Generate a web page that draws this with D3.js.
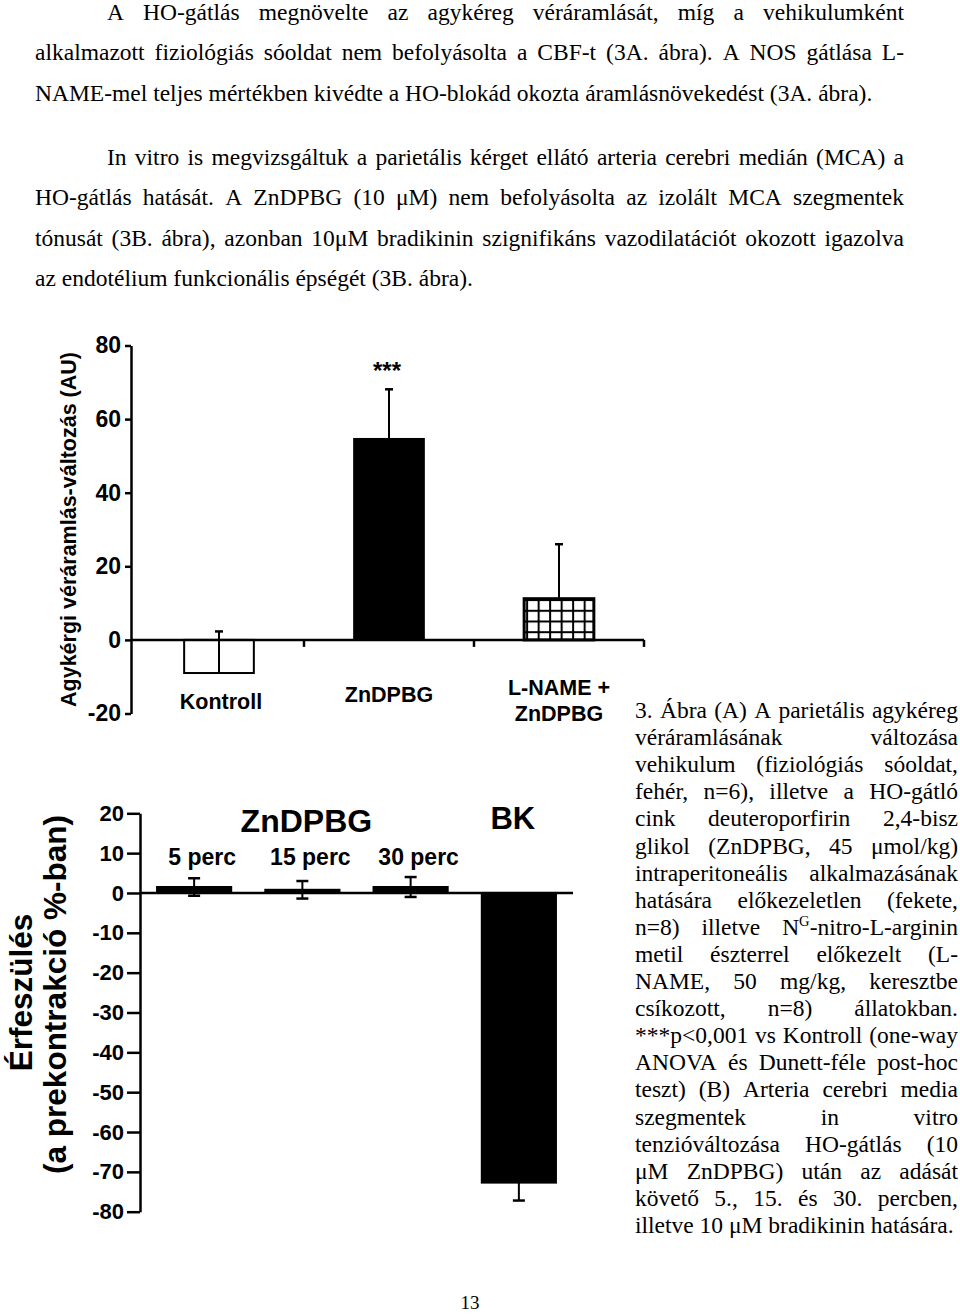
<!DOCTYPE html>
<html><head><meta charset="utf-8">
<script src="https://cdn.jsdelivr.net/npm/d3@7"></script>
<style>body{margin:0;background:#fff}</style>
</head><body>
<svg id="page" width="960" height="1315" xmlns="http://www.w3.org/2000/svg"></svg>
<script>
// ---------- DATA ----------
const categoriesA = ["Kontroll", "ZnDPBG", "L-NAME + ZnDPBG"];
const valuesA = [-9, 54.6, 11.2];
const errorsA = [11.3, 13.5, 14.8];
const ticksA = [-20, 0, 20, 40, 60, 80];
const yLabelA = "Agykérgi véráramlás-változás (AU)";
const signifA = ["", "***", ""];

const categoriesB = ["5 perc", "15 perc", "30 perc", "BK"];
const valuesB = [1.5, 0.8, 1.5, -72.7];
const errorsB = [2.2, 2.2, 2.5, 4.5];
const ticksB = [20, 10, 0, -10, -20, -30, -40, -50, -60, -70, -80];
const yLabelB = ["Érfeszülés", "(a prekontrakció %-ban)"];
const groupLabelB = "ZnDPBG";

const paragraph1 = [
  "A HO-gátlás megnövelte az agykéreg véráramlását, míg a vehikulumként",
  "alkalmazott fiziológiás sóoldat nem befolyásolta a CBF-t (3A. ábra). A NOS gátlása L-",
  "NAME-mel teljes mértékben kivédte a HO-blokád okozta áramlásnövekedést (3A. ábra)."
];
const paragraph2 = [
  "In vitro is megvizsgáltuk a parietális kérget ellátó arteria cerebri medián (MCA) a",
  "HO-gátlás hatását. A ZnDPBG (10 μM) nem befolyásolta az izolált MCA szegmentek",
  "tónusát (3B. ábra), azonban 10μM bradikinin szignifikáns vazodilatációt okozott igazolva",
  "az endotélium funkcionális épségét (3B. ábra)."
];
const captionLines = [
  "3. Ábra (A) A parietális agykéreg",
  "véráramlásának változása",
  "vehikulum (fiziológiás sóoldat,",
  "fehér, n=6), illetve a HO-gátló",
  "cink deuteroporfirin 2,4-bisz",
  "glikol (ZnDPBG, 45 μmol/kg)",
  "intraperitoneális alkalmazásának",
  "hatására előkezeletlen (fekete,",
  "n=8) illetve N^G-nitro-L-arginin",
  "metil észterrel előkezelt (L-",
  "NAME, 50 mg/kg, keresztbe",
  "csíkozott, n=8) állatokban.",
  "***p<0,001 vs Kontroll (one-way",
  "ANOVA és Dunett-féle post-hoc",
  "teszt) (B) Arteria cerebri media",
  "szegmentek in vitro",
  "tenzióváltozása HO-gátlás (10",
  "μM ZnDPBG) után az adását",
  "követő 5., 15. és 30. percben,",
  "illetve 10 μM bradikinin hatására."
];
const pageNumber = "13";

// ---------- STYLE ----------
const SERIF = "'Liberation Serif','Times New Roman',serif";
const SANS = "'Liberation Sans',Arial,Helvetica,sans-serif";
const svg = d3.select("#page");
svg.append("rect").attr("width", 960).attr("height", 1315).attr("fill", "#fff");
const hyphenFmt = d => String(d); // plain hyphen-minus, as in the reference

// ---------- TEXT HELPERS ----------
function parseWord(w) {
  const m = w.match(/^(.*)\^(.)(.*)$/);
  if (m) return [{t: m[1]}, {t: m[2], sup: true}, {t: m[3]}];
  return [{t: w}];
}
function setLine(g, line, x0, x1, y, size, justify) {
  const words = line.split(" ").map(parseWord);
  const nodes = words.map(segs => {
    const t = g.append("text").attr("y", y)
      .attr("font-family", SERIF).attr("font-size", size).attr("fill", "#000");
    let raised = false;
    segs.forEach(s => {
      if (!s.t) return;
      const ts = t.append("tspan").text(s.t);
      if (s.sup) { ts.attr("font-size", size * 0.62).attr("dy", -size * 0.36); raised = true; }
      else if (raised) { ts.attr("dy", size * 0.36); raised = false; }
    });
    return t;
  });
  const widths = nodes.map(n => n.node().getComputedTextLength());
  const total = d3.sum(widths);
  const gap = (justify && words.length > 1) ? (x1 - x0 - total) / (words.length - 1) : size * 0.25;
  let x = x0;
  nodes.forEach((n, i) => { n.attr("x", x); x += widths[i] + gap; });
}

// ---------- BODY TEXT ----------
const body = svg.append("g");
const TXT = 23.5, LEFT = 35, RIGHT = 904, INDENT = 72;
const p1Base = [19.5, 60, 100.5];
const p2Base = [164.5, 205, 245.5, 286];
paragraph1.forEach((l, i) => setLine(body, l, LEFT + (i === 0 ? INDENT : 0), RIGHT, p1Base[i], TXT, i < paragraph1.length - 1));
paragraph2.forEach((l, i) => setLine(body, l, LEFT + (i === 0 ? INDENT : 0), RIGHT, p2Base[i], TXT, i < paragraph2.length - 1));

const cap = svg.append("g");
captionLines.forEach((l, i) => setLine(cap, l, 635, 958, 718 + i * 27.1, TXT, i < captionLines.length - 1));

svg.append("text").attr("x", 470).attr("y", 1309).attr("text-anchor", "middle")
  .attr("font-family", SERIF).attr("font-size", 19).text(pageNumber);

// ---------- CHART A ----------
const gA = svg.append("g");
const yA = d3.scaleLinear().domain([-20, 80]).range([713.5, 345.5]);
const xA = d3.scaleBand().domain(categoriesA).range([134, 644]).padding(0);
const barWA = xA.bandwidth() * 0.41;

const defs = svg.append("defs");
const pat = defs.append("pattern").attr("id", "grid").attr("patternUnits", "userSpaceOnUse")
  .attr("width", 11.5).attr("height", 10.7)
  .attr("x", xA(categoriesA[2]) + (xA.bandwidth() - barWA) / 2 + 2).attr("y", yA(0) + 2);
pat.append("rect").attr("width", 11.5).attr("height", 10.7).attr("fill", "#fff");
pat.append("rect").attr("x", 0).attr("y", 0).attr("width", 2).attr("height", 10.7).attr("fill", "#000");
pat.append("rect").attr("x", 0).attr("y", 0).attr("width", 11.5).attr("height", 2).attr("fill", "#000");

const fillsA = ["#fff", "#000", "url(#grid)"];
const strokeWA = [2, 2, 3];

categoriesA.forEach((c, i) => {
  const v = valuesA[i];
  const x = xA(c) + (xA.bandwidth() - barWA) / 2;
  gA.append("rect").attr("x", x).attr("width", barWA)
    .attr("y", Math.min(yA(v), yA(0))).attr("height", Math.abs(yA(v) - yA(0)))
    .attr("fill", fillsA[i]).attr("stroke", "#000").attr("stroke-width", strokeWA[i]);
});
categoriesA.forEach((c, i) => {
  const cx = xA(c) + xA.bandwidth() / 2;
  const v = valuesA[i], e = errorsA[i];
  gA.append("line").attr("x1", cx).attr("x2", cx).attr("y1", yA(v)).attr("y2", yA(v + e))
    .attr("stroke", "#000").attr("stroke-width", 2);
  gA.append("line").attr("x1", cx - 4).attr("x2", cx + 4).attr("y1", yA(v + e)).attr("y2", yA(v + e))
    .attr("stroke", "#000").attr("stroke-width", 2.5);
  if (signifA[i]) {
    gA.append("text").attr("x", cx - 2).attr("y", yA(v + e) - 10).attr("text-anchor", "middle")
      .attr("font-family", SANS).attr("font-weight", "bold").attr("font-size", 24).text(signifA[i]);
  }
});
const axA = gA.append("g").attr("transform", "translate(131,0)")
  .call(d3.axisLeft(yA).tickValues(ticksA).tickFormat(hyphenFmt).tickSize(6).tickSizeOuter(0).tickPadding(4));
axA.select(".domain").attr("stroke-width", 2.5);
axA.selectAll(".tick line").attr("stroke-width", 2.5);
axA.selectAll(".tick text").attr("font-family", SANS).attr("font-weight", "bold").attr("font-size", 23).attr("fill", "#000");
gA.append("line").attr("x1", 131).attr("x2", xA.range()[1]).attr("y1", yA(0)).attr("y2", yA(0))
  .attr("stroke", "#000").attr("stroke-width", 2.5);
categoriesA.forEach(c => {
  const xb = xA(c) + xA.bandwidth();
  gA.append("line").attr("x1", xb).attr("x2", xb).attr("y1", yA(0)).attr("y2", yA(0) + 7)
    .attr("stroke", "#000").attr("stroke-width", 2.5);
});
const labBaseA = [[709], [702], [695, 721]];
categoriesA.forEach((c, i) => {
  const cx = xA(c) + xA.bandwidth() / 2;
  const parts = c === "L-NAME + ZnDPBG" ? ["L-NAME +", "ZnDPBG"] : [c];
  parts.forEach((p, j) => {
    gA.append("text").attr("x", cx + (i === 0 ? 2 : 0)).attr("y", labBaseA[i][j]).attr("text-anchor", "middle")
      .attr("font-family", SANS).attr("font-weight", "bold").attr("font-size", 21.5).text(p);
  });
});
gA.append("text").attr("transform", "translate(76," + ((yA(80) + yA(-20)) / 2) + ") rotate(-90)")
  .attr("text-anchor", "middle").attr("font-family", SANS).attr("font-weight", "bold")
  .attr("font-size", 21.5).text(yLabelA);

// ---------- CHART B ----------
const gB = svg.append("g");
const yB = d3.scaleLinear().domain([-80, 20]).range([1211.7, 813.3]);
const xB = d3.scaleBand().domain(categoriesB).range([140, 573]).padding(0);
const barWB = xB.bandwidth() * 0.685;

categoriesB.forEach((c, i) => {
  const v = valuesB[i];
  const x = xB(c) + (xB.bandwidth() - barWB) / 2;
  gB.append("rect").attr("x", x).attr("width", barWB)
    .attr("y", Math.min(yB(v), yB(0))).attr("height", Math.abs(yB(v) - yB(0)))
    .attr("fill", "#000").attr("stroke", "#000").attr("stroke-width", 2);
});
categoriesB.forEach((c, i) => {
  const cx = xB(c) + xB.bandwidth() / 2;
  const v = valuesB[i], e = errorsB[i];
  gB.append("line").attr("x1", cx).attr("x2", cx).attr("y1", yB(v - e)).attr("y2", yB(v + e))
    .attr("stroke", "#000").attr("stroke-width", 2);
  [v - e, v + e].forEach(t => {
    gB.append("line").attr("x1", cx - 6).attr("x2", cx + 6).attr("y1", yB(t)).attr("y2", yB(t))
      .attr("stroke", "#000").attr("stroke-width", 2.5);
  });
});
const axB = gB.append("g").attr("transform", "translate(140,0)")
  .call(d3.axisLeft(yB).tickValues(ticksB).tickFormat(hyphenFmt).tickSize(13).tickSizeOuter(0).tickPadding(3));
axB.select(".domain").attr("stroke-width", 2.5);
axB.selectAll(".tick line").attr("stroke-width", 2.5);
axB.selectAll(".tick text").attr("font-family", SANS).attr("font-weight", "bold").attr("font-size", 22).attr("fill", "#000");
gB.append("line").attr("x1", 140).attr("x2", xB.range()[1]).attr("y1", yB(0)).attr("y2", yB(0))
  .attr("stroke", "#000").attr("stroke-width", 2.5);
categoriesB.forEach((c, i) => {
  const cx = xB(c) + xB.bandwidth() / 2;
  if (c === "BK") {
    gB.append("text").attr("x", cx - 6).attr("y", 829).attr("text-anchor", "middle")
      .attr("font-family", SANS).attr("font-weight", "bold").attr("font-size", 31).text(c);
  } else {
    gB.append("text").attr("x", cx + 8).attr("y", 865).attr("text-anchor", "middle")
      .attr("font-family", SANS).attr("font-weight", "bold").attr("font-size", 23).text(c);
  }
});
const groupCx = (xB(categoriesB[0]) + xB(categoriesB[2]) + xB.bandwidth()) / 2;
gB.append("text").attr("x", groupCx + 4).attr("y", 832).attr("text-anchor", "middle")
  .attr("font-family", SANS).attr("font-weight", "bold").attr("font-size", 32).text(groupLabelB);
const midB = (yB(20) + yB(-80)) / 2;
gB.append("text").attr("transform", "translate(32," + (midB - 20) + ") rotate(-90)")
  .attr("text-anchor", "middle").attr("font-family", SANS).attr("font-weight", "bold")
  .attr("font-size", 31.5).text(yLabelB[0]);
gB.append("text").attr("transform", "translate(65.5," + (midB - 18) + ") rotate(-90)")
  .attr("text-anchor", "middle").attr("font-family", SANS).attr("font-weight", "bold")
  .attr("font-size", 31.5).text(yLabelB[1]);
</script>
</body></html>
